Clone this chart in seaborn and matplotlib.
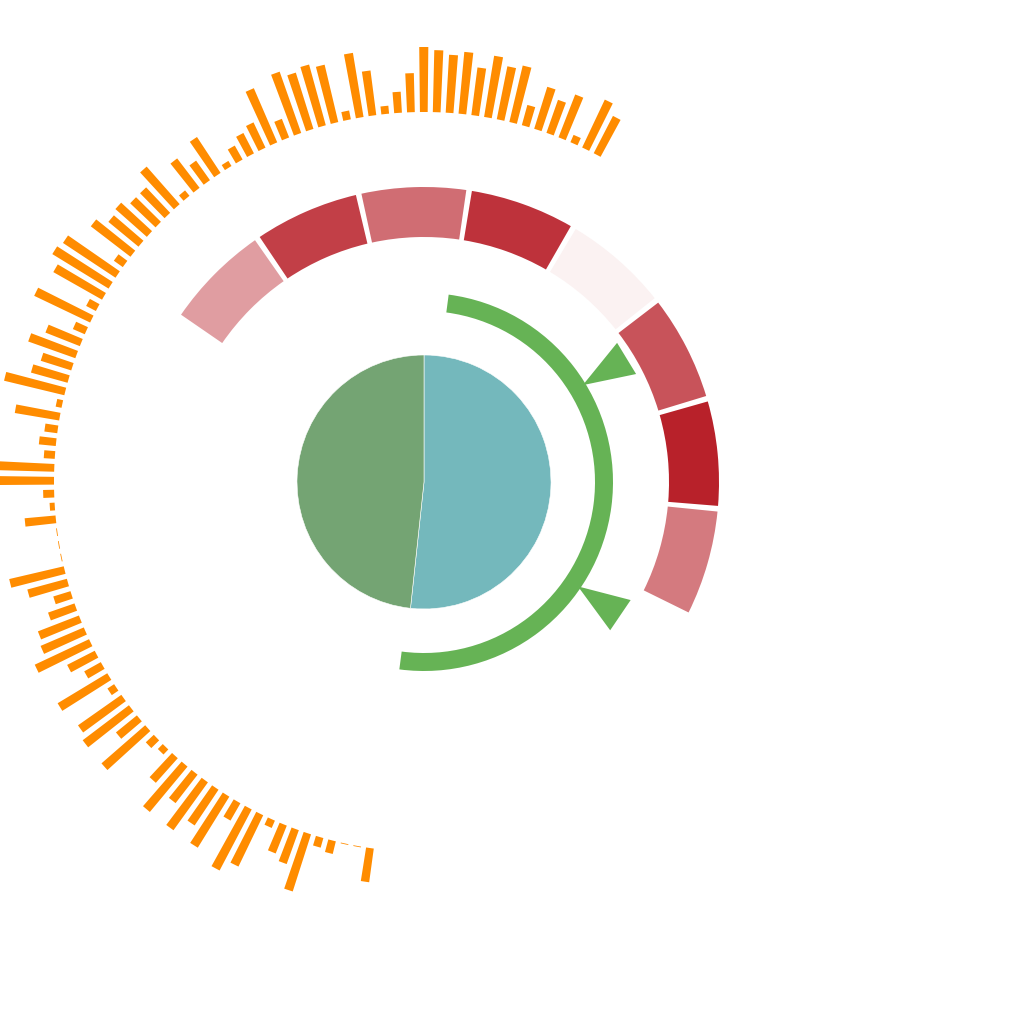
import numpy as np
import matplotlib
matplotlib.use("Agg")
import matplotlib.pyplot as plt
import seaborn as sns

sns.set_theme(style="white")

# ---------------- data ----------------
pie_labels = ["B", "A"]
pie_values = [51.7, 48.3]
pie_colors = ["#74b8bc", "#74a473"]

ring_values = [44, 86, 66, 92, 6, 77, 100, 60]

gauge_pointers = [28.4, 64.8]  # percent of gauge span

bar_values = [
    34, 0.8, 0.8, 13, 10, 60, 36, 30, 8, 57,
    69, 20, 60, 43, 59, 36, 59, 33, 7, 11,
    58, 27, 58, 53, 8, 58, 19, 31, 60, 47,
    44, 28, 18, 41, 56, 0.8, 0.8, 0.8, 31, 5,
    11, 58, 58, 11, 17, 13, 45, 6, 62, 38,
    32, 50, 37, 13, 62, 11, 56, 66, 63, 11,
    50, 39, 42, 35, 35, 50, 7, 37, 24, 43,
    6, 16, 23, 28, 59, 20, 65, 59, 63, 59,
    9, 65, 45, 8, 21, 39, 65, 62, 58, 62,
    48, 62, 54, 58, 21, 44, 35, 46, 8, 53,
    42,
]

# ---------------- figure ----------------
W = 1024
R = 450
cx, cy = 424, 482
fig = plt.figure(figsize=(10.24, 10.24), dpi=100)
ax = fig.add_axes([(cx - R) / W, (W - cy - R) / W, 2 * R / W, 2 * R / W],
                  projection="polar")
ax.set_theta_zero_location("N")
ax.set_theta_direction(-1)
ax.set_ylim(0, R)
ax.axis("off")

# pie (center)
pie_r = 127
tot = sum(pie_values)
start = 0.0
for v, c in zip(pie_values, pie_colors):
    span = 2 * np.pi * v / tot
    ax.bar(start, pie_r, width=span, bottom=0, align="edge", color=c,
           edgecolor="white", linewidth=0.4, zorder=2)
    start += span

# gauge arc with pointers
g_start, g_span = 7.5, 180.0
for p in gauge_pointers:
    th = np.deg2rad(g_start + g_span * p / 100)
    hw = np.deg2rad(4.4)
    ax.fill([th, th - hw, th + hw], [186, 238, 238], color="#66b355",
            lw=0, zorder=3)
ax.bar(np.deg2rad(g_start), 18, width=np.deg2rad(g_span), bottom=171,
       align="edge", color="#66b355", linewidth=0, zorder=4)

# red ring
cmap = sns.blend_palette(["#ffffff", "#b8212a"], as_cmap=True)
r_start, r_seg, r_gap = -56.0, 21.6, 1.1
for i, v in enumerate(ring_values):
    th0 = np.deg2rad(r_start + i * r_seg + r_gap / 2)
    ax.bar(th0, 50, width=np.deg2rad(r_seg - r_gap), bottom=245, align="edge",
           color=cmap(v / 100), linewidth=0, zorder=2)

# orange circular bars
b_start, b_step = 188.4, 1.995
thetas = np.deg2rad(b_start + b_step * np.arange(len(bar_values)))
ax.bar(thetas, bar_values, width=np.deg2rad(1.2), bottom=370, align="center",
       color="#ff8c00", linewidth=0, zorder=2)

fig.savefig("out.png", dpi=100, facecolor="white")
